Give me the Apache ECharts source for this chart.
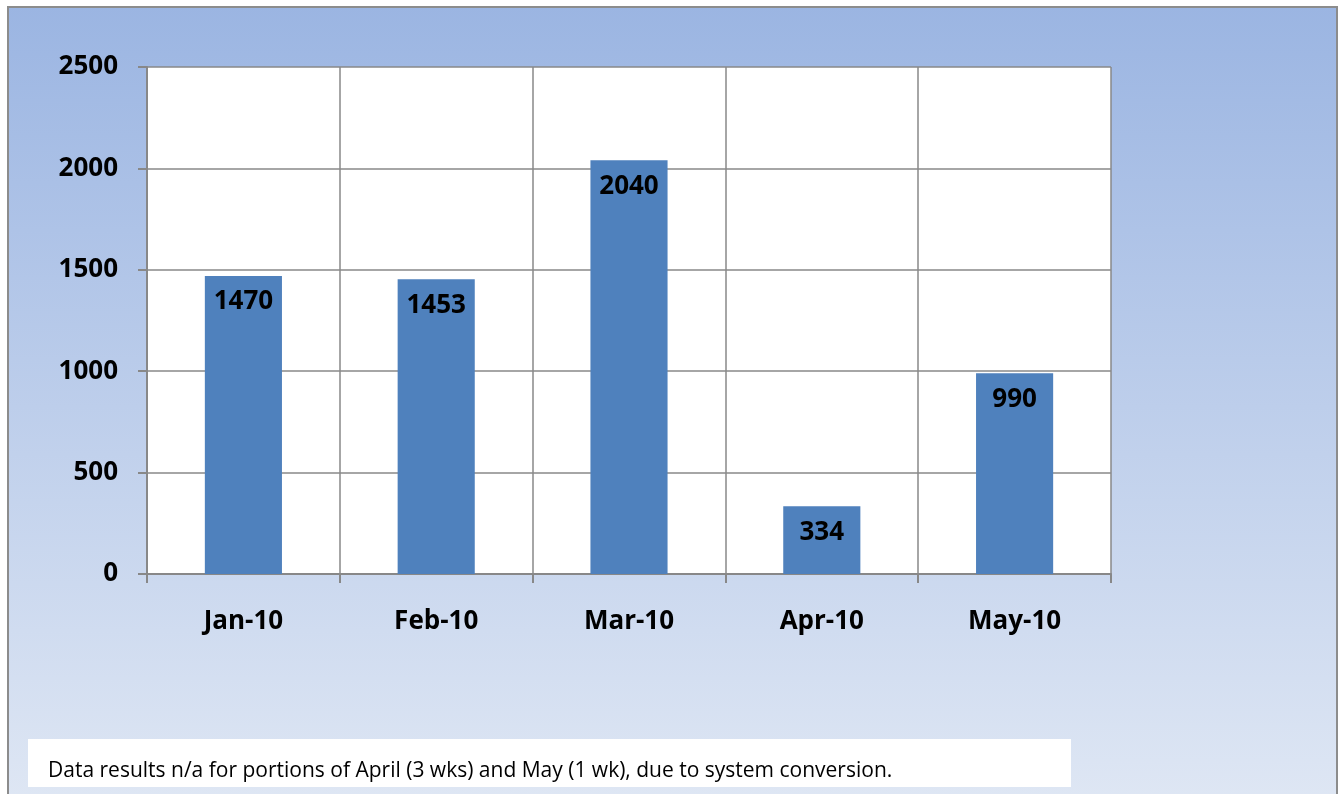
<!DOCTYPE html>
<html>
<head>
<meta charset="utf-8">
<script src="https://cdn.jsdelivr.net/npm/echarts@6/dist/echarts.min.js"></script>
<style>
  html,body{margin:0;padding:0;background:#fff;}
  #main{width:1343px;height:794px;}
</style>
</head>
<body>
<div id="main"></div>
<script>
var months = ['Jan-10', 'Feb-10', 'Mar-10', 'Apr-10', 'May-10'];
var counts = [1470, 1453, 2040, 334, 990];
var note = 'Data results n/a for portions of April (3 wks) and May (1 wk), due to system conversion.';

var font = '"Open Sans", "Liberation Sans", sans-serif';
var myChart = echarts.init(document.getElementById('main'));

var option = {
  backgroundColor: '#ffffff',
  animation: false,
  graphic: [
    {
      type: 'rect',
      z: -10,
      shape: { x: 8, y: 7, width: 1329, height: 800 },
      style: {
        fill: {
          type: 'linear', x: 0, y: 0, x2: 0, y2: 1,
          colorStops: [
            { offset: 0, color: '#9bb5e2' },
            { offset: 1, color: '#dfe7f4' }
          ]
        },
        stroke: '#8c8c8c',
        lineWidth: 2
      }
    },
    {
      type: 'rect',
      z: -5,
      shape: { x: 28, y: 739, width: 1043, height: 48 },
      style: { fill: '#ffffff' }
    },
    {
      type: 'text',
      left: 48,
      top: 761,
      z: 10,
      style: {
        text: note,
        fill: '#000',
        font: '21px ' + font,
        verticalAlign: 'middle'
      }
    }
  ],
  grid: {
    left: 147,
    top: 67,
    width: 964,
    height: 507,
    show: true,
    backgroundColor: '#ffffff',
    borderWidth: 0
  },
  xAxis: {
    type: 'category',
    data: months,
    boundaryGap: true,
    axisLine: { show: true, lineStyle: { color: '#888', width: 2 } },
    axisTick: { show: true, length: 9, lineStyle: { color: '#888', width: 2 } },
    splitLine: { show: true, lineStyle: { color: '#888', width: 1.5 } },
    axisLabel: {
      color: '#000',
      fontSize: 26,
      fontWeight: 'bold',
      fontFamily: font,
      margin: 35
    }
  },
  yAxis: {
    type: 'value',
    min: 0,
    max: 2500,
    interval: 500,
    axisLine: { show: true, lineStyle: { color: '#888', width: 2 } },
    axisTick: { show: true, length: 9, lineStyle: { color: '#888', width: 2 } },
    splitLine: { show: true, lineStyle: { color: '#888', width: 1.5 } },
    axisLabel: {
      color: '#000',
      fontSize: 26,
      fontWeight: 'bold',
      fontFamily: font,
      margin: 29,
      formatter: function (v) { return String(v); }
    }
  },
  series: [{
    type: 'bar',
    data: counts,
    barWidth: '40%',
    itemStyle: { color: '#4f81bd' },
    label: {
      show: true,
      position: 'insideTop',
      distance: 13,
      color: '#000',
      fontSize: 26,
      fontWeight: 'bold',
      fontFamily: font
    }
  }]
};

myChart.setOption(option);
</script>
</body>
</html>
